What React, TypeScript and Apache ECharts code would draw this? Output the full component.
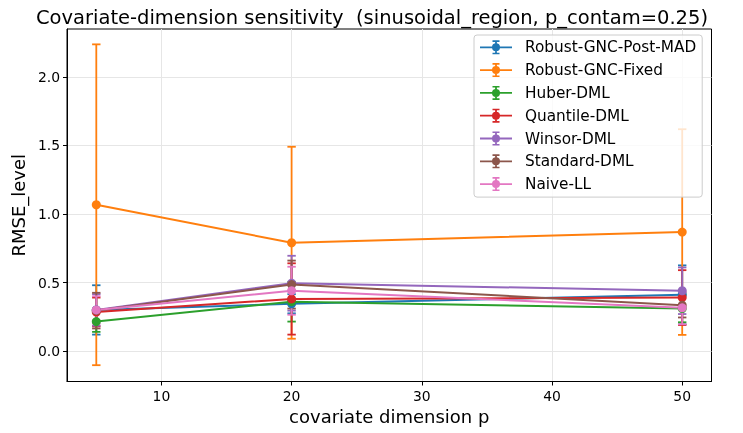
import React, { useEffect, useRef } from "react";
import * as echarts from "echarts";

const xValues = [5, 20, 50];
const methods = [
  "Robust-GNC-Post-MAD",
  "Robust-GNC-Fixed",
  "Huber-DML",
  "Quantile-DML",
  "Winsor-DML",
  "Standard-DML",
  "Naive-LL",
];
const colors = ["#1f77b4", "#ff7f0e", "#2ca02c", "#d62728", "#9467bd", "#8c564b", "#e377c2"];
const means = [
  [0.3, 0.345, 0.41],
  [1.067, 0.79, 0.868],
  [0.215, 0.36, 0.31],
  [0.285, 0.38, 0.39],
  [0.3, 0.495, 0.44],
  [0.295, 0.485, 0.335],
  [0.3, 0.44, 0.315],
];
const errors = [
  [0.18, 0.07, 0.215],
  [1.17, 0.7, 0.75],
  [0.075, 0.145, 0.1],
  [0.105, 0.26, 0.2],
  [0.115, 0.2, 0.17],
  [0.13, 0.175, 0.09],
  [0.1, 0.175, 0.12],
];
const xTicks = [10, 20, 30, 40, 50];
const yTicks = [0, 0.5, 1.0, 1.5, 2.0];

const legendIcon =
  "path://M0 6.1H32V7.9H0Z M15.1 0H16.9V14H15.1Z M12.5 0H19.5V1.6H12.5Z M12.5 12.4H19.5V14H12.5Z M12 7A4 4 0 1 1 20 7A4 4 0 1 1 12 7Z";

export default function App() {
  const ref = useRef<HTMLDivElement>(null);
  useEffect(() => {
    const chart = echarts.init(ref.current!, null, { renderer: "svg" });
    const series: any[] = [];
    methods.forEach((name, i) => {
      series.push({
        name,
        type: "line",
        data: xValues.map((x, j) => [x, means[i][j]]),
        symbol: "circle",
        symbolSize: 9,
        lineStyle: { color: colors[i], width: 2 },
        itemStyle: { color: colors[i] },
        z: 2,
      });
      series.push({
        name,
        type: "custom",
        data: xValues.map((x, j) => [x, means[i][j] - errors[i][j], means[i][j] + errors[i][j]]),
        encode: { x: 0, y: [1, 2] },
        z: 2,
        renderItem: (params: any, api: any) => {
          const x = api.value(0);
          const lo = api.coord([x, api.value(1)]);
          const hi = api.coord([x, api.value(2)]);
          const style = { stroke: colors[i], lineWidth: 1.8, fill: "none" };
          const cw = 4.2;
          return {
            type: "group",
            children: [
              { type: "line", shape: { x1: lo[0], y1: lo[1], x2: hi[0], y2: hi[1] }, style },
              { type: "line", shape: { x1: hi[0] - cw, y1: hi[1], x2: hi[0] + cw, y2: hi[1] }, style },
              { type: "line", shape: { x1: lo[0] - cw, y1: lo[1], x2: lo[0] + cw, y2: lo[1] }, style },
            ],
          };
        },
      });
    });

    chart.setOption({
      animation: false,
      color: colors,
      title: {
        text: "Covariate-dimension sensitivity  (sinusoidal_region, p_contam=0.25)",
        left: 367,
        textAlign: "center",
        top: 2,
        textStyle: { fontFamily: "DejaVu Sans", fontSize: 19.5, fontWeight: "normal", color: "#000" },
      },
      legend: {
        data: methods.map((m) => ({ name: m, icon: legendIcon })),
        orient: "vertical",
        left: 474,
        top: 35,
        itemWidth: 32,
        itemHeight: 14,
        itemGap: 6.8,
        padding: [4.3, 6, 5, 6],
        backgroundColor: "rgba(255,255,255,0.8)",
        borderColor: "#cccccc",
        borderWidth: 1,
        borderRadius: 3,
        itemStyle: { borderWidth: 0 },
        textStyle: { fontFamily: "DejaVu Sans", fontSize: 15.3, lineHeight: 16, color: "#000", padding: [0, 0, 0, 8] },
        z: 10,
      },
      grid: { left: 67, top: 29, right: 31.5, bottom: 51.5, show: true, borderColor: "#000", borderWidth: 1, backgroundColor: "transparent" },
      xAxis: {
        type: "value",
        min: 2.75,
        max: 52.25,
        splitNumber: 5,
        name: "covariate dimension p",
        nameLocation: "middle",
        nameGap: 25,
        nameTextStyle: { fontFamily: "DejaVu Sans", fontSize: 18, color: "#000" },
        axisLine: { show: true, onZero: false, lineStyle: { color: "#000", width: 1 } },
        axisTick: { show: true, length: 4, lineStyle: { color: "#000" }, customValues: xTicks },
        axisLabel: {
          fontFamily: "DejaVu Sans",
          fontSize: 13.9,
          color: "#000",
          margin: 7,
          customValues: xTicks,
          formatter: (v: number) => (Math.abs(v % 10) < 1e-9 ? String(v) : ""),
        },
        splitLine: { show: true, lineStyle: { color: "#e6e6e6", width: 1 } },
      },
      yAxis: {
        type: "value",
        min: -0.222,
        max: 2.349,
        splitNumber: 5,
        name: "RMSE_level",
        nameLocation: "middle",
        nameGap: 37,
        nameTextStyle: { fontFamily: "DejaVu Sans", fontSize: 18, color: "#000" },
        axisLine: { show: true, onZero: false, lineStyle: { color: "#000", width: 1 } },
        axisTick: { show: true, length: 4, lineStyle: { color: "#000" }, customValues: yTicks },
        axisLabel: {
          fontFamily: "DejaVu Sans",
          fontSize: 13.9,
          color: "#000",
          margin: 7,
          customValues: yTicks,
          formatter: (v: number) => (Math.abs(Math.round(v * 2) - v * 2) < 1e-9 ? v.toFixed(1) : ""),
        },
        splitLine: { show: true, lineStyle: { color: "#e6e6e6", width: 1 } },
      },
      series,
    });
    return () => chart.dispose();
  }, []);
  return <div ref={ref} style={{ position: "fixed", left: 0, top: 0, width: 743, height: 433 }} />;
}
